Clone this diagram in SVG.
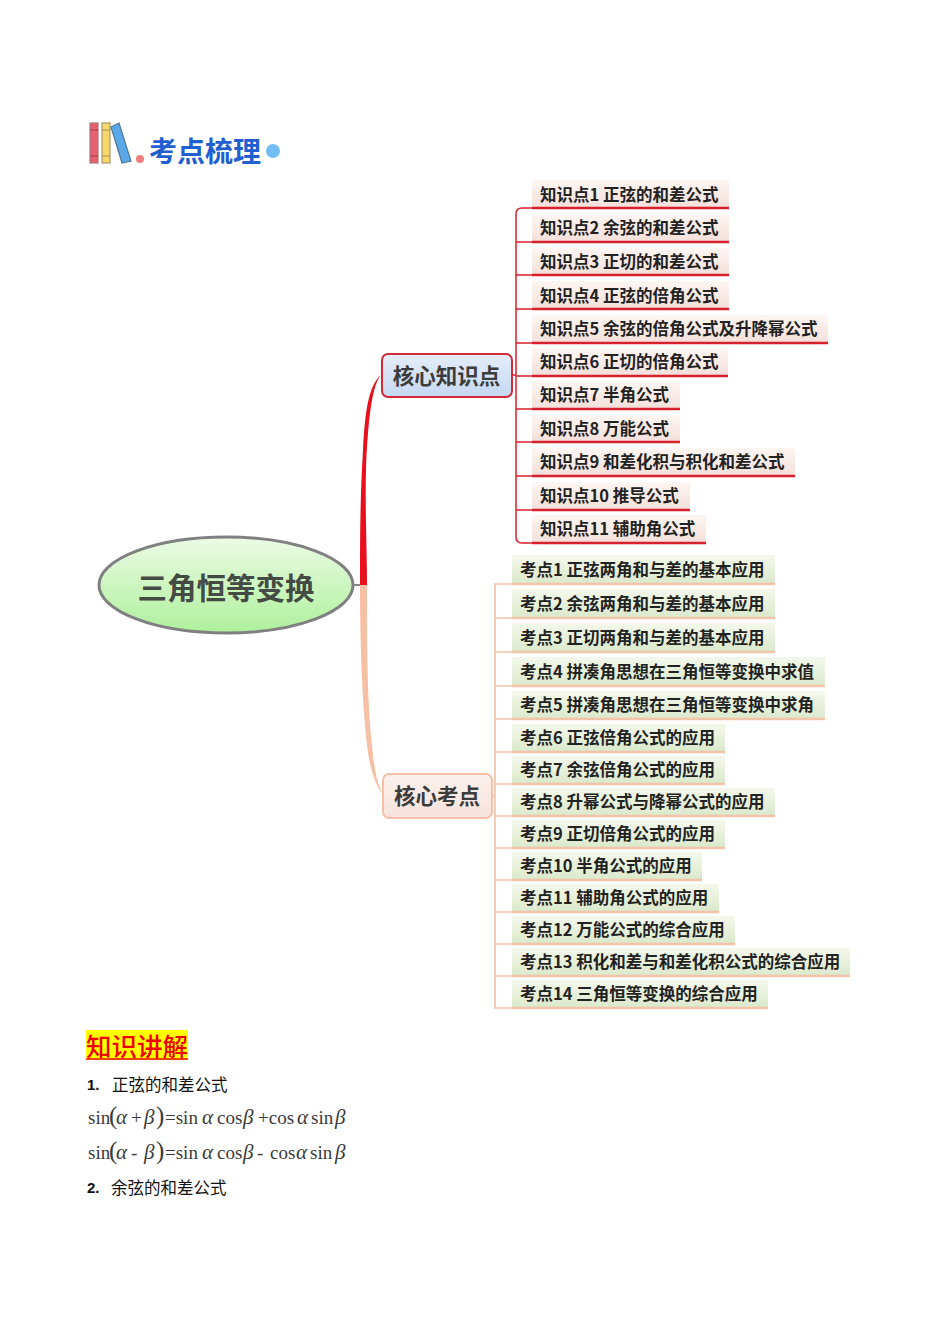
<svg xmlns="http://www.w3.org/2000/svg" width="950" height="1344" viewBox="0 0 950 1344">
<style>
text{font-family:"Noto Sans CJK SC","Noto Sans",sans-serif}
.lr{fill:url(#gr)}.lg{fill:url(#gg)}
.t{font-size:16.5px;font-weight:700;fill:#222;dominant-baseline:central;transform:translateY(-.4px)}
.ur{stroke:#d8202c;stroke-width:2.4;fill:none}
.ug{stroke:#f2c4aa;stroke-width:2.4;fill:none}
.cr{stroke:#d8202c;stroke-width:1.5;fill:none}
.cg{stroke:#f2c4aa;stroke-width:1.7;fill:none}
.m{font-family:"Liberation Serif",serif;font-size:19px;fill:#3a3a3a}
.mi{font-family:"Liberation Serif",serif;font-size:21px;fill:#3a3a3a;font-style:italic}
.p{font-family:"Liberation Serif",serif;font-size:25px;fill:#3a3a3a}
.b{font-size:16.5px;fill:#111}
.n{font-family:"Liberation Sans",sans-serif;font-size:15px;font-weight:bold;fill:#111}
</style>
<defs>
<linearGradient id="gr" x1="0" y1="0" x2="0" y2="1"><stop offset="0" stop-color="#fdf6f3"/><stop offset="1" stop-color="#f4dfd9"/></linearGradient>
<linearGradient id="gg" x1="0" y1="0" x2="0" y2="1"><stop offset="0" stop-color="#f4f8ec"/><stop offset="1" stop-color="#dbe9cb"/></linearGradient>
<linearGradient id="ge" x1="0" y1="0" x2="0" y2="1"><stop offset="0" stop-color="#ecfbe6"/><stop offset="1" stop-color="#aef09c"/></linearGradient>
<linearGradient id="gb" x1="0" y1="0" x2="0" y2="1"><stop offset="0" stop-color="#e6edf8"/><stop offset="1" stop-color="#c4d8f2"/></linearGradient>
<linearGradient id="gp" x1="0" y1="0" x2="0" y2="1"><stop offset="0" stop-color="#fbf1ec"/><stop offset="1" stop-color="#f8e2dd"/></linearGradient>
</defs>
<rect width="950" height="1344" fill="#fff"/>
<g id="heading">
<rect x="90" y="123" width="8" height="40" fill="#e8606c" stroke="#a07880" stroke-width="1.2"/>
<path d="M90 130H98M90 156H98" stroke="#a04050" stroke-width="1"/>
<rect x="102" y="123" width="8" height="40" fill="#f6d86c" stroke="#a89870" stroke-width="1.2"/>
<path d="M102 130H110M102 156H110" stroke="#a89050" stroke-width="1"/>
<polygon points="111,127 119,123 131,161 122,163" fill="#5aa8e8" stroke="#507890" stroke-width="1.2"/>
<circle cx="140" cy="159" r="4" fill="#f08080"/>
<text x="149" y="162" font-size="28" font-weight="700" fill="#1f5fd0">考点梳理</text>
<circle cx="273" cy="151" r="7" fill="#72bdf2"/>
</g>
<g id="connectors">
<path d="M353 585H361" stroke="#888" stroke-width="2" fill="none"/>
<path d="M381 375C372 385 368 420 366 470C365 510 367 550 367 585H360C360 540 360 500 363 450C365 410 369 385 381 375Z" fill="#e8101c"/>
<path d="M360 585H367C367 640 367 700 372 745C374 770 378 785 383 795C375 785 369 765 367 745C362 700 360 640 360 585Z" fill="#f6c0a4"/>
<path class="cr" d="M532 208H522Q516 208 516 214V537Q516 543 522 543H532M516 242H532M516 275H532M516 309H532M516 343H532M512 375H516M516 376H532M516 409H532M516 442H532M516 476H532M516 510H532"/>
<path class="cg" d="M512 584H495V1008H512M495 618H512M495 652H512M495 686H512M495 719H512M495 752H512M495 784H512M492 796H495M495 816H512M495 848H512M495 880H512M495 912H512M495 944H512M495 976H512"/>
</g>
<g id="root"><ellipse cx="226" cy="585" rx="127" ry="48" fill="url(#ge)" stroke="#808080" stroke-width="3"/>
<text x="226" y="585.5" text-anchor="middle" dominant-baseline="central" font-size="29.5" font-weight="700" fill="#444a44">三角恒等变换</text></g>
<g id="core1"><rect x="382" y="354" width="130" height="43" rx="6" fill="url(#gb)" stroke="#d02c3c" stroke-width="2"/>
<text x="446.5" y="374" text-anchor="middle" dominant-baseline="central" font-size="21.5" font-weight="700" fill="#3c3c3c">核心知识点</text></g>
<g id="core2"><rect x="383" y="774" width="109" height="44" rx="6" fill="url(#gp)" stroke="#f4c0a8" stroke-width="2"/>
<text x="437" y="794" text-anchor="middle" dominant-baseline="central" font-size="21.5" font-weight="700" fill="#3c3c3c">核心考点</text></g>

<g id="k1"><rect class="lr" x="532" y="180" width="197" height="28"/><path class="ur" d="M532 208H729"/><text class="t" x="540" y="194">知识点1 正弦的和差公式</text></g>
<g id="k2"><rect class="lr" x="532" y="214" width="197" height="28"/><path class="ur" d="M532 242H729"/><text class="t" x="540" y="227">知识点2 余弦的和差公式</text></g>
<g id="k3"><rect class="lr" x="532" y="248" width="197" height="27"/><path class="ur" d="M532 275H729"/><text class="t" x="540" y="261">知识点3 正切的和差公式</text></g>
<g id="k4"><rect class="lr" x="532" y="281" width="197" height="28"/><path class="ur" d="M532 309H729"/><text class="t" x="540" y="295">知识点4 正弦的倍角公式</text></g>
<g id="k5"><rect class="lr" x="532" y="315" width="296" height="28"/><path class="ur" d="M532 343H828"/><text class="t" x="540" y="328">知识点5 余弦的倍角公式及升降幂公式</text></g>
<g id="k6"><rect class="lr" x="532" y="348" width="196" height="28"/><path class="ur" d="M532 376H728"/><text class="t" x="540" y="361">知识点6 正切的倍角公式</text></g>
<g id="k7"><rect class="lr" x="532" y="381" width="148" height="28"/><path class="ur" d="M532 409H680"/><text class="t" x="540" y="394">知识点7 半角公式</text></g>
<g id="k8"><rect class="lr" x="532" y="415" width="148" height="27"/><path class="ur" d="M532 442H680"/><text class="t" x="540" y="428">知识点8 万能公式</text></g>
<g id="k9"><rect class="lr" x="532" y="448" width="263" height="28"/><path class="ur" d="M532 476H795"/><text class="t" x="540" y="461">知识点9 和差化积与积化和差公式</text></g>
<g id="k10"><rect class="lr" x="532" y="482" width="158" height="28"/><path class="ur" d="M532 510H690"/><text class="t" x="540" y="495">知识点10 推导公式</text></g>
<g id="k11"><rect class="lr" x="532" y="515" width="174" height="28"/><path class="ur" d="M532 543H706"/><text class="t" x="540" y="528">知识点11 辅助角公式</text></g>

<g id="e1"><rect class="lg" x="512" y="555" width="263" height="29"/><path class="ug" d="M512 584H775"/><text class="t" x="520" y="569">考点1 正弦两角和与差的基本应用</text></g>
<g id="e2"><rect class="lg" x="512" y="589" width="263" height="29"/><path class="ug" d="M512 618H775"/><text class="t" x="520" y="603">考点2 余弦两角和与差的基本应用</text></g>
<g id="e3"><rect class="lg" x="512" y="623" width="263" height="29"/><path class="ug" d="M512 652H775"/><text class="t" x="520" y="637">考点3 正切两角和与差的基本应用</text></g>
<g id="e4"><rect class="lg" x="512" y="657" width="313" height="29"/><path class="ug" d="M512 686H825"/><text class="t" x="520" y="671">考点4 拼凑角思想在三角恒等变换中求值</text></g>
<g id="e5"><rect class="lg" x="512" y="691" width="313" height="28"/><path class="ug" d="M512 719H825"/><text class="t" x="520" y="704">考点5 拼凑角思想在三角恒等变换中求角</text></g>
<g id="e6"><rect class="lg" x="512" y="724" width="213" height="28"/><path class="ug" d="M512 752H725"/><text class="t" x="520" y="737">考点6 正弦倍角公式的应用</text></g>
<g id="e7"><rect class="lg" x="512" y="756" width="213" height="28"/><path class="ug" d="M512 784H725"/><text class="t" x="520" y="769">考点7 余弦倍角公式的应用</text></g>
<g id="e8"><rect class="lg" x="512" y="788" width="263" height="28"/><path class="ug" d="M512 816H775"/><text class="t" x="520" y="801">考点8 升幂公式与降幂公式的应用</text></g>
<g id="e9"><rect class="lg" x="512" y="820" width="213" height="28"/><path class="ug" d="M512 848H725"/><text class="t" x="520" y="833">考点9 正切倍角公式的应用</text></g>
<g id="e10"><rect class="lg" x="512" y="852" width="190" height="28"/><path class="ug" d="M512 880H702"/><text class="t" x="520" y="865">考点10 半角公式的应用</text></g>
<g id="e11"><rect class="lg" x="512" y="884" width="207" height="28"/><path class="ug" d="M512 912H719"/><text class="t" x="520" y="897">考点11 辅助角公式的应用</text></g>
<g id="e12"><rect class="lg" x="512" y="916" width="223" height="28"/><path class="ug" d="M512 944H735"/><text class="t" x="520" y="929">考点12 万能公式的综合应用</text></g>
<g id="e13"><rect class="lg" x="512" y="948" width="338" height="28"/><path class="ug" d="M512 976H850"/><text class="t" x="520" y="961">考点13 积化和差与和差化积公式的综合应用</text></g>
<g id="e14"><rect class="lg" x="512" y="980" width="256" height="28"/><path class="ug" d="M512 1008H768"/><text class="t" x="520" y="993">考点14 三角恒等变换的综合应用</text></g>

<g id="lecture">
<rect x="86" y="1030" width="102" height="30" fill="#ffff00"/>
<text x="86" y="1056" font-size="25.5" font-weight="500" fill="#f00000">知识讲解</text>
<path d="M86 1059H188" stroke="#f00000" stroke-width="1.5"/>
<text class="n" x="87" y="1090">1.</text><text class="b" x="112" y="1090.5">正弦的和差公式</text>
<text class="m" x="88" y="1124">sin</text><text class="p" x="109" y="1124">(</text><text class="mi" x="116" y="1124">α</text><text class="m" x="131" y="1124">+</text><text class="mi" x="144" y="1124">β</text><text class="p" x="156" y="1124">)</text><text class="m" x="165" y="1124">=sin</text><text class="mi" x="202" y="1124">α</text><text class="m" x="217" y="1124">cos</text><text class="mi" x="243" y="1124">β</text><text class="m" x="258" y="1124">+cos</text><text class="mi" x="297" y="1124">α</text><text class="m" x="311" y="1124">sin</text><text class="mi" x="335" y="1124">β</text>
<text class="m" x="88" y="1159">sin</text><text class="p" x="109" y="1159">(</text><text class="mi" x="116" y="1159">α</text><text class="m" x="131" y="1159">-</text><text class="mi" x="144" y="1159">β</text><text class="p" x="156" y="1159">)</text><text class="m" x="165" y="1159">=sin</text><text class="mi" x="202" y="1159">α</text><text class="m" x="217" y="1159">cos</text><text class="mi" x="243" y="1159">β</text><text class="m" x="257" y="1159">-</text><text class="m" x="270" y="1159">cos</text><text class="mi" x="296" y="1159">α</text><text class="m" x="310" y="1159">sin</text><text class="mi" x="335" y="1159">β</text>
<text class="n" x="87" y="1193">2.</text><text class="b" x="111" y="1193.5">余弦的和差公式</text>
</g>
</svg>
